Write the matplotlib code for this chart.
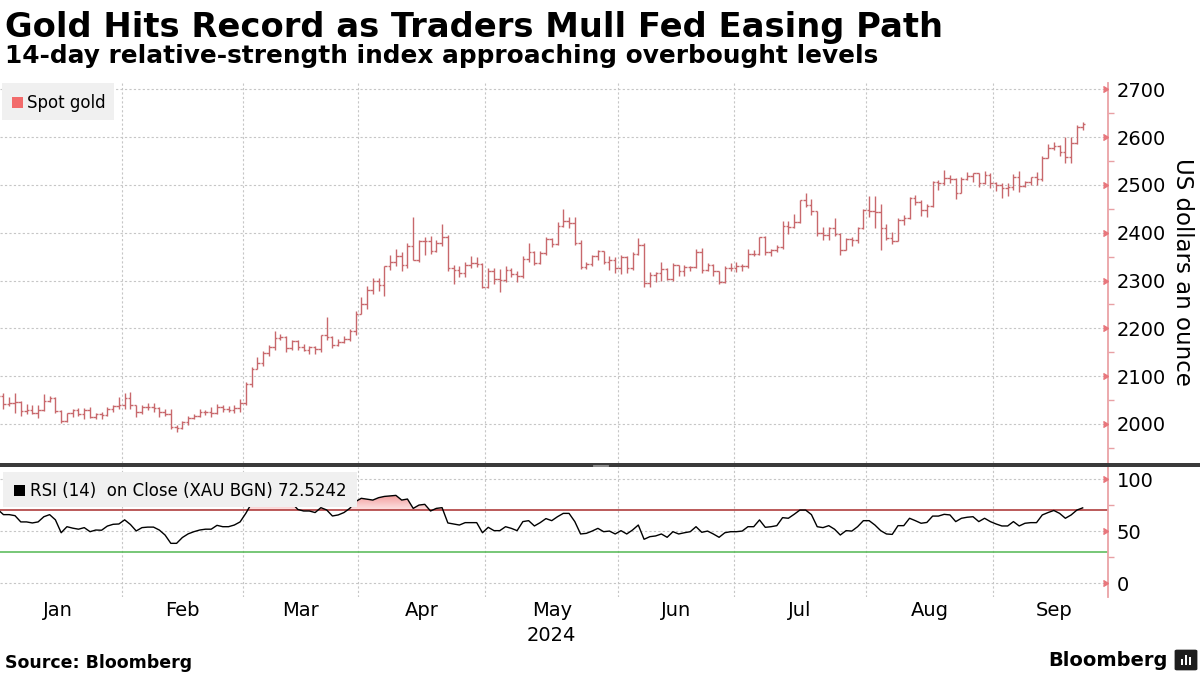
import numpy as np
import matplotlib.pyplot as plt
from matplotlib.patches import Rectangle, FancyBboxPatch
from matplotlib.colors import LinearSegmentedColormap
from matplotlib.path import Path
from matplotlib.ticker import MultipleLocator

# month labels and trading days per month (Sep counted to month end for the label)
months = ["Jan", "Feb", "Mar", "Apr", "May", "Jun", "Jul", "Aug", "Sep"]
month_days = [22, 21, 20, 22, 23, 20, 23, 22, 21]

# daily spot gold bars, Jan 2 - Sep 23 2024 (USD/oz)
open_ = [2063, 2059, 2042, 2043, 2045, 2028, 2030, 2024, 2029, 2049, 2055, 2028, 2006, 2023, 2029, 2021, 2029, 2014, 2020, 2018, 2032, 2037,
         2039, 2054, 2039, 2025, 2035, 2035, 2034, 2025, 2020, 1993, 1992, 2004, 2013, 2017, 2025, 2026, 2024, 2036, 2031, 2030, 2034,
         2044, 2083, 2114, 2128, 2148, 2160, 2179, 2182, 2158, 2174, 2162, 2155, 2160, 2157, 2186, 2181, 2165, 2172, 2178, 2194,
         2230, 2251, 2280, 2300, 2290, 2330, 2339, 2352, 2333, 2372, 2344, 2383, 2383, 2361, 2379, 2392, 2327, 2322, 2316, 2332, 2337, 2335,
         2286, 2320, 2303, 2301, 2323, 2314, 2309, 2346, 2360, 2336, 2358, 2386, 2377, 2415, 2425, 2420, 2379, 2329, 2334, 2351, 2361, 2338, 2343,
         2327, 2350, 2326, 2355, 2375, 2294, 2311, 2316, 2324, 2303, 2333, 2319, 2329, 2328, 2360, 2322, 2333, 2319, 2298, 2327,
         2326, 2331, 2330, 2356, 2356, 2392, 2359, 2364, 2371, 2414, 2411, 2422, 2469, 2459, 2445, 2400, 2396, 2409, 2398, 2364, 2387, 2384, 2410,
         2447, 2446, 2443, 2410, 2390, 2383, 2427, 2431, 2472, 2465, 2447, 2456, 2507, 2504, 2514, 2512, 2484, 2512, 2518, 2524, 2504, 2521,
         2503, 2500, 2493, 2495, 2516, 2497, 2506, 2516, 2512, 2557, 2578, 2582, 2569, 2559, 2587, 2622]
high = [2079, 2065, 2057, 2064, 2048, 2041, 2039, 2040, 2062, 2058, 2056, 2030, 2024, 2032, 2033, 2034, 2036, 2023, 2026, 2036, 2040, 2056,
        2065, 2066, 2040, 2040, 2043, 2044, 2036, 2031, 2031, 1997, 2006, 2016, 2021, 2031, 2030, 2035, 2041, 2039, 2037, 2039, 2052,
        2088, 2119, 2141, 2152, 2165, 2195, 2189, 2185, 2175, 2175, 2168, 2164, 2163, 2187, 2223, 2184, 2177, 2184, 2198, 2236,
        2266, 2288, 2305, 2305, 2331, 2354, 2365, 2360, 2378, 2432, 2385, 2392, 2394, 2384, 2418, 2395, 2332, 2331, 2338, 2352, 2349, 2337,
        2326, 2326, 2325, 2331, 2326, 2319, 2351, 2378, 2361, 2362, 2392, 2389, 2422, 2450, 2433, 2432, 2385, 2338, 2354, 2364, 2362, 2352, 2349,
        2354, 2351, 2359, 2388, 2379, 2317, 2318, 2338, 2326, 2336, 2333, 2332, 2331, 2365, 2368, 2336, 2335, 2321, 2331, 2337,
        2339, 2335, 2365, 2363, 2392, 2393, 2366, 2374, 2424, 2424, 2440, 2469, 2483, 2470, 2446, 2412, 2412, 2431, 2400, 2390, 2392, 2413, 2450,
        2477, 2477, 2461, 2419, 2401, 2430, 2437, 2474, 2479, 2468, 2461, 2509, 2510, 2531, 2520, 2514, 2517, 2527, 2526, 2525, 2529, 2524,
        2506, 2503, 2503, 2523, 2529, 2508, 2517, 2528, 2560, 2586, 2590, 2584, 2600, 2601, 2625, 2632]
low = [2057, 2031, 2038, 2024, 2016, 2021, 2021, 2013, 2027, 2046, 2024, 2002, 2005, 2015, 2016, 2011, 2012, 2010, 2011, 2016, 2026, 2031,
       2031, 2031, 2014, 2020, 2030, 2025, 2015, 2016, 1990, 1984, 1990, 1998, 2011, 2015, 2018, 2015, 2020, 2025, 2026, 2024, 2025,
       2039, 2077, 2114, 2122, 2142, 2155, 2175, 2150, 2155, 2155, 2152, 2146, 2146, 2150, 2175, 2158, 2163, 2170, 2173, 2187,
       2229, 2241, 2272, 2279, 2268, 2322, 2331, 2320, 2326, 2342, 2338, 2353, 2355, 2360, 2373, 2320, 2292, 2307, 2308, 2326, 2328, 2285,
       2285, 2293, 2277, 2298, 2308, 2297, 2305, 2338, 2332, 2334, 2353, 2370, 2375, 2413, 2410, 2374, 2325, 2325, 2330, 2342, 2334, 2323, 2315,
       2314, 2315, 2323, 2353, 2287, 2286, 2298, 2299, 2301, 2300, 2309, 2310, 2320, 2327, 2316, 2319, 2310, 2293, 2295, 2319,
       2318, 2319, 2326, 2351, 2354, 2353, 2352, 2359, 2367, 2397, 2410, 2421, 2454, 2438, 2393, 2384, 2385, 2394, 2353, 2364, 2372, 2379, 2408,
       2432, 2410, 2364, 2384, 2377, 2382, 2417, 2429, 2457, 2436, 2433, 2454, 2489, 2500, 2504, 2471, 2483, 2510, 2506, 2495, 2502, 2493,
       2488, 2472, 2476, 2490, 2485, 2495, 2500, 2500, 2509, 2556, 2574, 2560, 2546, 2546, 2585, 2614]
close = [2059, 2042, 2043, 2045, 2028, 2030, 2024, 2029, 2049, 2055, 2028, 2006, 2023, 2029, 2021, 2029, 2014, 2020, 2018, 2032, 2037, 2039,
         2054, 2039, 2025, 2035, 2035, 2034, 2025, 2020, 1993, 1992, 2004, 2013, 2017, 2025, 2026, 2024, 2036, 2031, 2030, 2034, 2044,
         2083, 2114, 2128, 2148, 2160, 2179, 2182, 2158, 2174, 2162, 2155, 2160, 2157, 2186, 2181, 2165, 2172, 2178, 2194, 2230,
         2251, 2280, 2300, 2290, 2330, 2339, 2352, 2333, 2372, 2344, 2383, 2383, 2361, 2379, 2392, 2327, 2322, 2316, 2332, 2337, 2335, 2286,
         2320, 2303, 2301, 2323, 2314, 2309, 2346, 2360, 2336, 2358, 2386, 2377, 2415, 2425, 2420, 2379, 2329, 2334, 2351, 2361, 2338, 2343, 2327,
         2350, 2326, 2355, 2375, 2294, 2311, 2316, 2324, 2303, 2333, 2319, 2329, 2328, 2360, 2322, 2333, 2319, 2298, 2327, 2326,
         2331, 2330, 2356, 2356, 2392, 2359, 2364, 2371, 2414, 2411, 2422, 2469, 2459, 2445, 2400, 2396, 2409, 2398, 2364, 2387, 2384, 2410, 2447,
         2446, 2443, 2410, 2390, 2383, 2427, 2431, 2472, 2465, 2447, 2456, 2507, 2504, 2514, 2512, 2484, 2512, 2518, 2524, 2504, 2521, 2503,
         2500, 2493, 2495, 2516, 2497, 2506, 2516, 2512, 2557, 2578, 2582, 2569, 2559, 2587, 2622, 2628]

# 14-day RSI on close, same days
rsi = [71, 66, 66, 65, 59, 59, 58, 59, 64, 66, 61, 48.6, 54.4, 53, 52, 53.5, 49.6, 51.2, 51, 55, 56.7, 57,
       61, 56.5, 50.3, 53.5, 54, 54, 51.2, 46.4, 38.4, 38.4, 44, 47.5, 49.6, 51.2, 52, 52, 55.7, 54.4, 54.4, 56, 59,
       67.3, 77, 79.5, 80.8, 81.7, 84, 85, 75.4, 77, 71, 69.5, 69.5, 68, 72.7, 70.5, 64.7, 65.7, 68, 72, 78.5,
       81.7, 80.8, 80, 82.3, 83.5, 84, 84.5, 80, 81, 72, 75.2, 75.9, 69.5, 72, 72.7, 58, 57, 56, 58.3, 58.3, 58.3, 48.6,
       53.8, 50.6, 50.6, 54.4, 52.8, 50.6, 59.3, 60.2, 55.1, 58.3, 62.2, 60.2, 64, 67.2, 67.2, 59.3, 47.4, 48, 50.2, 52.8, 49.6, 50.2, 47.4,
       50.6, 47.4, 51.2, 56, 42.3, 44.8, 45.5, 47.4, 44.2, 49.6, 47.4, 48.6, 49.6, 54.4, 49, 50.2, 47.4, 44.2, 48.6, 49.6,
       49.6, 50.2, 54.4, 54.4, 60.9, 53.8, 54.4, 55.4, 63.1, 62.5, 66.3, 70.4, 70.4, 66, 54.4, 53.5, 55.4, 52, 46.4, 50.6, 50.2, 54.4, 60.2,
       60.2, 56, 50.6, 47.4, 47, 55.4, 55.4, 62.5, 60.2, 57.7, 58.5, 64.6, 64.6, 66.3, 65.7, 59.3, 62.5, 63.5, 64, 59.3, 62.5, 59.3,
       57, 55.1, 55.1, 59.3, 55.1, 57.7, 58.3, 58.3, 65.7, 68, 70, 67.2, 62.5, 65.7, 70.4, 72.5]

price_ticks = [2000, 2100, 2200, 2300, 2400, 2500, 2600, 2700]
rsi_ticks = [0, 50, 100]

W, H = 1200, 675


def fbox(l, t, r, b):
    # pixel box -> figure fraction [left, bottom, width, height]
    return [l / W, 1 - b / H, (r - l) / W, (b - t) / H]


fig = plt.figure(figsize=(12, 6.75), dpi=100)
ax = fig.add_axes(fbox(0, 83, 1107.5, 463))
ax2 = fig.add_axes(fbox(0, 467, 1107.5, 597))

idx = np.arange(len(close))
rsi = np.array(rsi)
ends = np.cumsum(month_days)
bounds = ends[:-1] - 0.5
mids = ends - np.array(month_days) / 2 - 0.5

grid_kw = dict(color='#c6c6c6', lw=0.8, ls=(0, (2, 2)), zorder=0)
for a in (ax, ax2):
    for b in bounds:
        a.axvline(b, **grid_kw)
for v in price_ticks:
    ax.axhline(v, **grid_kw)
for v in rsi_ticks:
    ax2.axhline(v, **grid_kw)

# OHLC bars
bar_col = '#c8686c'
ax.vlines(idx, low, high, color=bar_col, lw=1.0, zorder=2)
ax.hlines(open_, idx - 0.45, idx, color=bar_col, lw=1.0, zorder=2)
ax.hlines(close, idx, idx + 0.45, color=bar_col, lw=1.0, zorder=2)

# RSI panel, overbought area shaded with a gradient
pink = LinearSegmentedColormap.from_list('pk', ['#fde4e4', '#f08a8a'])
img = ax2.imshow(np.linspace(0, 1, 100).reshape(-1, 1), cmap=pink, origin='lower',
                 extent=[0, len(rsi), 70, 88], aspect='auto', zorder=1)
fill = ax2.fill_between(idx, rsi, 70, where=rsi > 70, interpolate=True,
                        facecolor='none', edgecolor='none')
img.set_clip_path(Path.make_compound_path(*fill.get_paths()), ax2.transData)
ax2.axhline(70, color='#a82c2c', lw=1.1, zorder=2)
ax2.axhline(30, color='#52b852', lw=1.1, zorder=2)
ax2.plot(idx, rsi, color='black', lw=1.0, zorder=3)

for a in (ax, ax2):
    for s in ('top', 'left', 'bottom'):
        a.spines[s].set_visible(False)
    a.spines['right'].set_color('#eba2a6')
    a.spines['right'].set_linewidth(1.3)
    a.yaxis.tick_right()
    a.tick_params(axis='y', which='major', length=0, pad=6.5, labelsize=14)
    a.tick_params(axis='y', which='minor', length=4, width=1, color='#e8a0a4')
    a.set_xlim(0.4, 192.3)

ax.set_ylim(1918.4, 2713.2)
ax.set_yticks(price_ticks)
ax.yaxis.set_minor_locator(MultipleLocator(50))
ax.tick_params(axis='x', bottom=False, labelbottom=False)

ax2.set_ylim(-13.2, 111.8)
ax2.set_yticks(rsi_ticks)
ax2.yaxis.set_minor_locator(MultipleLocator(25))
ax2.set_xticks([])

# caret-shaped major ticks
for a, t in ((ax, price_ticks), (ax2, rsi_ticks)):
    a.plot(np.ones(len(t)), t, ls='none', marker=5, ms=5, color='#e8767c',
           transform=a.get_yaxis_transform(), clip_on=False, zorder=5)

# month labels
for m, name in zip(mids, months):
    ax2.annotate(name, xy=(m, 0), xycoords=ax2.get_xaxis_transform(),
                 xytext=(0, -9.5), textcoords='offset points',
                 ha='center', va='center', fontsize=14)
ax2.annotate('2024', xy=(mids[4], 0), xycoords=ax2.get_xaxis_transform(),
             xytext=(0, -27.5), textcoords='offset points',
             ha='center', va='center', fontsize=14)

fig.text(1182 / W, 1 - 272 / H, 'US dollars an ounce', rotation=270,
         fontsize=16.5, ha='center', va='center')

# legends
fig.add_artist(Rectangle((2 / W, 1 - 120 / H), 112 / W, 37 / H, transform=fig.transFigure,
                         fc='#f0f0f0', ec='none'))
fig.add_artist(Rectangle((12 / W, 1 - 108 / H), 11 / W, 11 / H, transform=fig.transFigure,
                         fc='#f26b6b', ec='none'))
fig.text(27 / W, 1 - 102.5 / H, 'Spot gold', fontsize=12, va='center')

fig.add_artist(Rectangle((3 / W, 1 - 507 / H), 354 / W, 35 / H, transform=fig.transFigure,
                         fc='#f0f0f0', ec='none'))
fig.add_artist(Rectangle((14 / W, 1 - 496 / H), 11 / W, 11 / H, transform=fig.transFigure,
                         fc='black', ec='none'))
fig.text(30 / W, 1 - 491 / H, 'RSI (14)  on Close (XAU BGN) 72.5242', fontsize=12, va='center')

# panel separator
fig.add_artist(Rectangle((0, 1 - 467 / H), 1, 4 / H, transform=fig.transFigure,
                         fc='#3a3a3a', ec='none'))
for yy in (464.5, 466):
    fig.add_artist(plt.Line2D([593 / W, 608 / W], [1 - yy / H] * 2, transform=fig.transFigure,
                              color='#9a9a9a', lw=0.6))

# titles and footer
fig.text(5 / W, 1 - 37 / H, 'Gold Hits Record as Traders Mull Fed Easing Path',
         fontsize=24.3, fontweight='bold', va='baseline')
fig.text(5 / W, 1 - 63.5 / H, '14-day relative-strength index approaching overbought levels',
         fontsize=17.8, fontweight='bold', va='baseline')
fig.text(5 / W, 1 - 668 / H, 'Source: Bloomberg', fontsize=12.5, fontweight='bold', va='baseline')
fig.text(1168 / W, 1 - 666 / H, 'Bloomberg', fontsize=14, fontweight='bold', ha='right', va='baseline')
fig.add_artist(FancyBboxPatch((1177 / W, 1 - 669 / H), 18 / W, 18 / H, transform=fig.transFigure,
                              boxstyle='round,pad=0.002', fc='#1e1e1e', ec='none'))
for k, hgt in enumerate((6, 10, 8)):
    fig.add_artist(Rectangle(((1181 + 4 * k) / W, 1 - 665 / H), 2.2 / W, hgt / H,
                             transform=fig.transFigure, fc='white', ec='none'))

fig.savefig('out.png', dpi=100)
